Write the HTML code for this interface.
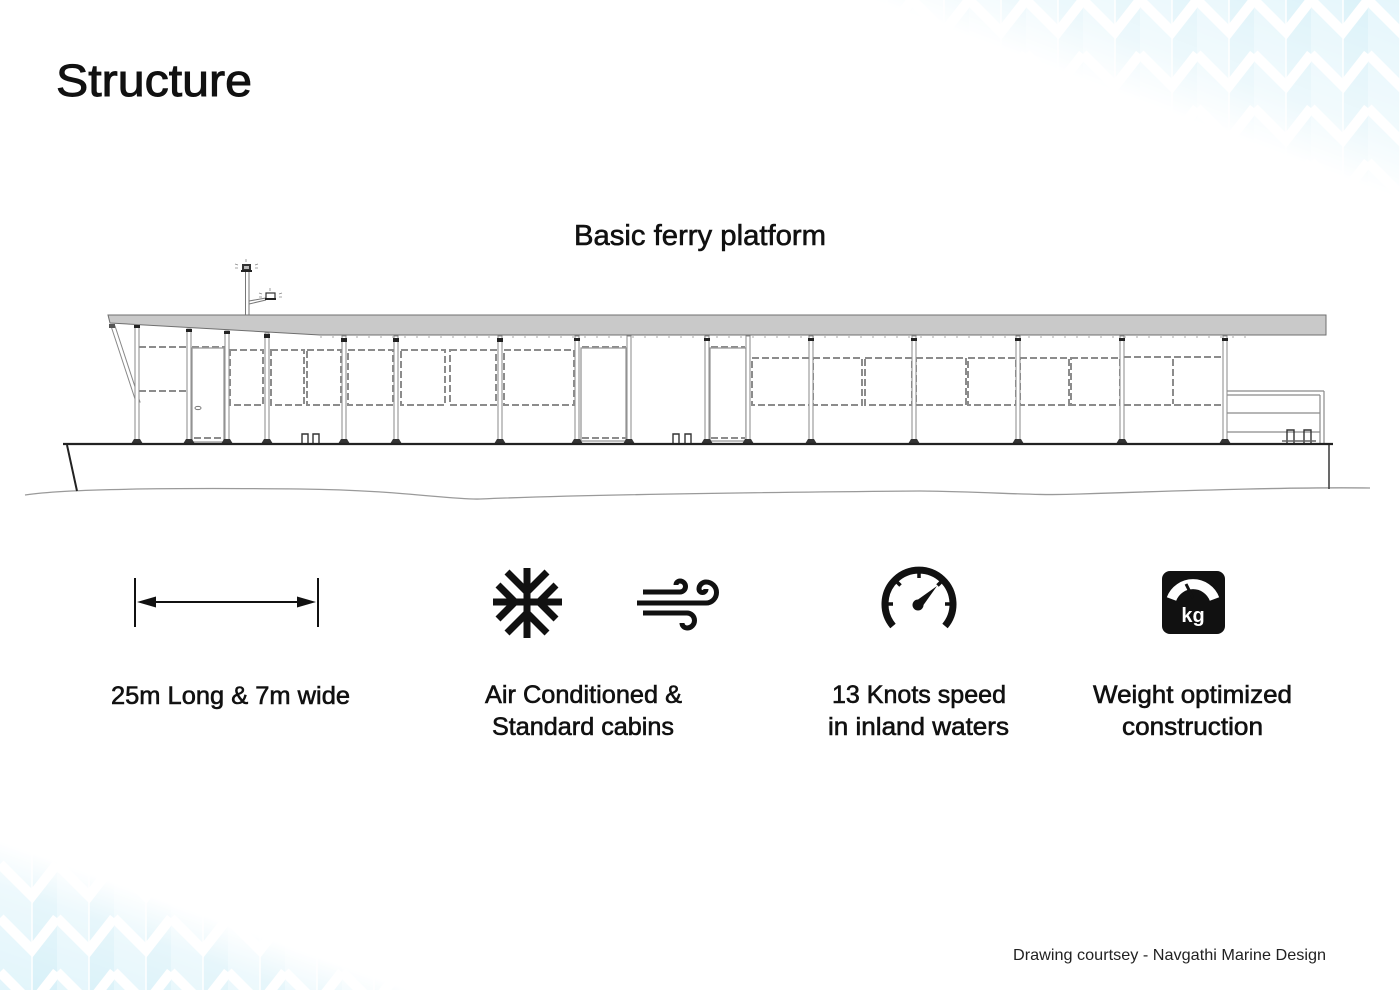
<!DOCTYPE html>
<html>
<head>
<meta charset="utf-8">
<style>
html,body{margin:0;padding:0;background:#fff;}
body{width:1400px;height:990px;overflow:hidden;}
svg{display:block;}
text{font-family:"Liberation Sans",Arial,sans-serif;fill:#111;}
.lb{stroke:#111;stroke-width:0.6px;}
</style>
</head>
<body>
<svg width="1400" height="990" viewBox="0 0 1400 990" xmlns="http://www.w3.org/2000/svg">
<defs>
  <pattern id="zz" width="57" height="54" patternUnits="userSpaceOnUse">
    <rect width="57" height="54" fill="#d6f0f8"/>
    <rect x="0" y="0" width="32" height="54" fill="#e2f5fb"/>
    <line x1="32" y1="0" x2="32" y2="54" stroke="#fff" stroke-width="1.5"/>
    <polyline points="0,0 32,32 57,0" fill="none" stroke="#fff" stroke-width="10"/>
    <polyline points="0,54 32,86 57,54" fill="none" stroke="#fff" stroke-width="10"/>
    <polyline points="0,-54 32,-22 57,-54" fill="none" stroke="#fff" stroke-width="10"/>
  </pattern>
  <linearGradient id="gTR" gradientUnits="userSpaceOnUse" x1="1334" y1="175" x2="1400" y2="0">
    <stop offset="0" stop-color="#fff" stop-opacity="0"/>
    <stop offset="0.3" stop-color="#fff" stop-opacity="0.45"/>
    <stop offset="1" stop-color="#fff" stop-opacity="0.9"/>
  </linearGradient>
  <linearGradient id="gBL" gradientUnits="userSpaceOnUse" x1="48" y1="858" x2="0" y2="990">
    <stop offset="0" stop-color="#fff" stop-opacity="0"/>
    <stop offset="0.3" stop-color="#fff" stop-opacity="0.6"/>
    <stop offset="1" stop-color="#fff" stop-opacity="1"/>
  </linearGradient>
  <mask id="mTR" maskUnits="userSpaceOnUse" x="0" y="0" width="1400" height="990">
    <rect x="860" y="0" width="540" height="210" fill="url(#gTR)"/>
  </mask>
  <mask id="mBL" maskUnits="userSpaceOnUse" x="0" y="0" width="1400" height="990">
    <rect x="0" y="820" width="430" height="170" fill="url(#gBL)"/>
  </mask>
</defs>

<rect x="860" y="0" width="540" height="210" fill="url(#zz)" mask="url(#mTR)"/>
<rect x="0" y="820" width="430" height="170" fill="url(#zz)" mask="url(#mBL)"/>

<text x="56" y="96" font-size="45" textLength="196" lengthAdjust="spacingAndGlyphs" style="stroke:#111;stroke-width:0.9px">Structure</text>
<text x="574" y="245" font-size="29" textLength="252" lengthAdjust="spacingAndGlyphs" class="lb">Basic ferry platform</text>

<g id="ferry">
  <path d="M25,495 C70,488 200,488 300,489 S450,500 480,499 C600,494 800,492 920,491 C1000,492 1030,496 1080,494 C1200,490 1300,487 1370,488" fill="none" stroke="#9a9a9a" stroke-width="1.3"/>
  <line x1="67" y1="445" x2="77" y2="491" stroke="#222" stroke-width="2"/>
  <line x1="1329" y1="444" x2="1329" y2="489" stroke="#444" stroke-width="1.6"/>

  <line x1="245.5" y1="272" x2="245.5" y2="316" stroke="#777" stroke-width="1"/>
  <line x1="249" y1="272" x2="249" y2="316" stroke="#777" stroke-width="1"/>
  <line x1="249" y1="301" x2="266" y2="298" stroke="#777" stroke-width="1"/>
  <line x1="249" y1="304" x2="266" y2="300" stroke="#777" stroke-width="1"/>
  <rect x="242" y="264" width="9" height="7" fill="#333"/>
  <rect x="244" y="266" width="5" height="3" fill="#bbb"/>
  <rect x="241" y="270" width="11" height="2" fill="#222"/>
  <path d="M238,265 l-3,-1 M238,268 h-3 M255,265 l3,-1 M255,268 h3 M246,262 v-3" stroke="#888" stroke-width="0.8"/>
  <rect x="266" y="293" width="9" height="6" fill="#fff" stroke="#333" stroke-width="1.2"/>
  <rect x="265" y="298" width="11" height="2" fill="#222"/>
  <path d="M262,294 l-3,-1 M262,297 h-3 M279,294 l3,-1 M279,297 h3 M270,291 v-3" stroke="#888" stroke-width="0.8"/>

  <polygon points="108,315 1326,315 1326,335 320,335 110,323" fill="#c9c9c9" stroke="#6f6f6f" stroke-width="1"/>
  <line x1="320" y1="337" x2="1250" y2="337" stroke="#aaa" stroke-width="1" stroke-dasharray="2 10"/>

  <polygon points="111,326 115,326 140,402 136,402" fill="#fff" stroke="#888" stroke-width="1"/>
  <rect x="109" y="324" width="6" height="4" fill="#555"/>

  <g fill="none" stroke="#8c8c8c" stroke-width="2" stroke-dasharray="7 3">
    <line x1="139" y1="347" x2="188" y2="347"/>
    <line x1="139" y1="391" x2="188" y2="391"/>
    <line x1="192" y1="347" x2="226" y2="347"/>
    <line x1="194" y1="438" x2="222" y2="438"/>
    <rect x="230" y="350" width="33" height="55"/>
    <rect x="271" y="350" width="33" height="55"/>
    <rect x="307" y="350" width="34" height="55"/>
    <rect x="348" y="350" width="45" height="55"/>
    <rect x="401" y="350" width="44" height="55"/>
    <rect x="450" y="350" width="46" height="55"/>
    <rect x="504" y="350" width="70" height="55"/>
    <line x1="582" y1="347" x2="626" y2="347"/>
    <line x1="582" y1="438" x2="626" y2="438"/>
    <line x1="711" y1="347" x2="745" y2="347"/>
    <line x1="711" y1="438" x2="745" y2="438"/>
    <rect x="752" y="358" width="58" height="47"/>
    <rect x="813" y="358" width="49" height="47"/>
    <rect x="865" y="358" width="47" height="47"/>
    <rect x="916" y="358" width="50" height="47"/>
    <rect x="968" y="358" width="48" height="47"/>
    <rect x="1020" y="358" width="49" height="47"/>
    <rect x="1071" y="358" width="49" height="47"/>
    <line x1="1124" y1="357" x2="1223" y2="357"/>
    <line x1="1124" y1="405" x2="1223" y2="405"/>
    <line x1="1173" y1="359" x2="1173" y2="404"/>
  </g>

  <g fill="none" stroke="#999" stroke-width="1.3">
    <rect x="192" y="348" width="32" height="94"/>
    <rect x="581" y="348" width="45" height="93"/>
    <rect x="710" y="348" width="36" height="93"/>
  </g>
  <ellipse cx="198" cy="408" rx="3" ry="1.6" fill="none" stroke="#777" stroke-width="1"/>

  <g>
    <g fill="#fff" stroke="#8a8a8a" stroke-width="1">
      <rect x="135" y="325" width="4" height="118"/>
      <rect x="187" y="329" width="4" height="114"/>
      <rect x="225" y="331" width="4" height="112"/>
      <rect x="265" y="333" width="4" height="110"/>
      <rect x="342" y="336" width="4" height="107"/>
      <rect x="394" y="336" width="4" height="107"/>
      <rect x="498" y="336" width="4" height="107"/>
      <rect x="575" y="336" width="4" height="107"/>
      <rect x="627" y="336" width="4" height="107"/>
      <rect x="705" y="336" width="4" height="107"/>
      <rect x="746" y="336" width="4" height="107"/>
      <rect x="809" y="336" width="4" height="107"/>
      <rect x="912" y="336" width="4" height="107"/>
      <rect x="1016" y="336" width="4" height="107"/>
      <rect x="1120" y="336" width="4" height="107"/>
      <rect x="1223" y="336" width="4" height="107"/>
    </g>
    <g fill="#222">
      <rect x="134" y="325" width="6" height="3"/>
      <rect x="186" y="329" width="6" height="3"/>
      <rect x="224" y="331" width="6" height="3"/>
      <rect x="264" y="334" width="6" height="4"/>
      <rect x="341" y="338" width="6" height="4"/>
      <rect x="393" y="338" width="6" height="4"/>
      <rect x="497" y="338" width="6" height="4"/>
      <rect x="574" y="338" width="6" height="3"/>
      <rect x="704" y="338" width="6" height="3"/>
      <rect x="808" y="338" width="6" height="3"/>
      <rect x="911" y="338" width="6" height="3"/>
      <rect x="1015" y="338" width="6" height="3"/>
      <rect x="1119" y="338" width="6" height="3"/>
      <rect x="1222" y="338" width="6" height="3"/>
    </g>
    <g fill="#333">
      <polygon points="131,444 143,444 140,439 134,439"/>
      <polygon points="183,444 195,444 192,439 186,439"/>
      <polygon points="221,444 233,444 230,439 224,439"/>
      <polygon points="261,444 273,444 270,439 264,439"/>
      <polygon points="338,444 350,444 347,439 341,439"/>
      <polygon points="390,444 402,444 399,439 393,439"/>
      <polygon points="494,444 506,444 503,439 497,439"/>
      <polygon points="571,444 583,444 580,439 574,439"/>
      <polygon points="623,444 635,444 632,439 626,439"/>
      <polygon points="701,444 713,444 710,439 704,439"/>
      <polygon points="742,444 754,444 751,439 745,439"/>
      <polygon points="805,444 817,444 814,439 808,439"/>
      <polygon points="908,444 920,444 917,439 911,439"/>
      <polygon points="1012,444 1024,444 1021,439 1015,439"/>
      <polygon points="1116,444 1128,444 1125,439 1119,439"/>
      <polygon points="1219,444 1231,444 1228,439 1222,439"/>
    </g>
  </g>

  <g fill="none" stroke="#8a8a8a" stroke-width="1.2">
    <line x1="1227" y1="391" x2="1324" y2="391"/>
    <line x1="1227" y1="395" x2="1320" y2="395"/>
    <line x1="1227" y1="413" x2="1320" y2="413"/>
    <line x1="1227" y1="432" x2="1320" y2="432"/>
    <line x1="1320" y1="395" x2="1320" y2="443"/>
    <line x1="1324" y1="391" x2="1324" y2="443"/>
  </g>

  <g fill="none" stroke="#333" stroke-width="1.4">
    <path d="M302,443 V434 H308 V443 M313,443 V434 H319 V443"/>
    <path d="M673,443 V434 H679 V443 M685,443 V434 H691 V443"/>
    <path d="M1287,443 V430 H1294 V443 M1304,443 V430 H1311 V443"/>
  </g>
  <line x1="1282" y1="441" x2="1316" y2="441" stroke="#666" stroke-width="1.5"/>

  <line x1="63" y1="444" x2="1333" y2="444" stroke="#222" stroke-width="2.2"/>
</g>

<g stroke="#111" stroke-width="2">
  <line x1="135" y1="578" x2="135" y2="627"/>
  <line x1="318" y1="578" x2="318" y2="627"/>
  <line x1="150" y1="602" x2="303" y2="602"/>
</g>
<polygon points="137,602 156,596.5 156,607.5" fill="#111"/>
<polygon points="316,602 297,596.5 297,607.5" fill="#111"/>

<g stroke="#111" stroke-width="7" fill="none" stroke-linecap="butt">
  <line x1="527" y1="568" x2="527" y2="638"/>
  <line x1="493" y1="602" x2="562" y2="602"/>
  <polyline points="507,572 527,592 547,572"/>
  <polyline points="507,633 527,613 547,633"/>
  <polyline points="498,585 515,602 498,619"/>
  <polyline points="556,585 539,602 556,619"/>
</g>

<g stroke="#111" stroke-width="5" fill="none">
  <path d="M643,592 H680 A5.5,5.5 0 0 0 680,581 A4,4 0 0 0 676,585"/>
  <path d="M637,603 H706 A10.5,10.5 0 0 0 706,582 A7,7 0 0 0 699,589 A3.5,3.5 0 0 0 706,589"/>
  <path d="M643,613 H687 A7.5,7.5 0 0 1 687,628 A5,5 0 0 1 682,623"/>
</g>

<path d="M893,626 A34,34 0 1 1 945,626" fill="none" stroke="#111" stroke-width="7"/>
<g stroke="#111" stroke-width="3.5">
  <line x1="919" y1="571" x2="919" y2="578"/>
  <line x1="886" y1="604" x2="893" y2="604"/>
  <line x1="952" y1="604" x2="945" y2="604"/>
  <line x1="895.5" y1="580.5" x2="900.5" y2="585.5"/>
  <line x1="942.5" y1="580.5" x2="937.5" y2="585.5"/>
</g>
<circle cx="918" cy="605" r="5.5" fill="#111"/>
<polygon points="914.5,602 921,608.5 937,586" fill="#111"/>

<rect x="1162" y="571" width="63" height="63" rx="8" ry="8" fill="#111"/>
<path d="M1171.5,599 A23,23 0 0 1 1214.5,599" fill="none" stroke="#fff" stroke-width="10"/>
<line x1="1186" y1="584" x2="1193" y2="598" stroke="#111" stroke-width="3"/>
<text x="1193" y="622" font-size="20" font-weight="bold" text-anchor="middle" style="fill:#fff">kg</text>

<text x="111" y="704" font-size="25" textLength="239" lengthAdjust="spacingAndGlyphs" class="lb">25m Long &amp; 7m wide</text>
<text x="485" y="703" font-size="25" textLength="197" lengthAdjust="spacingAndGlyphs" class="lb">Air Conditioned &amp;</text>
<text x="492" y="735" font-size="25" textLength="182" lengthAdjust="spacingAndGlyphs" class="lb">Standard cabins</text>
<text x="832" y="703" font-size="25" textLength="174" lengthAdjust="spacingAndGlyphs" class="lb">13 Knots speed</text>
<text x="828" y="735" font-size="25" textLength="181" lengthAdjust="spacingAndGlyphs" class="lb">in inland waters</text>
<text x="1093" y="703" font-size="25" textLength="199" lengthAdjust="spacingAndGlyphs" class="lb">Weight optimized</text>
<text x="1122" y="735" font-size="25" textLength="141" lengthAdjust="spacingAndGlyphs" class="lb">construction</text>

<text x="1013" y="960" font-size="16" textLength="313" lengthAdjust="spacingAndGlyphs" style="fill:#222">Drawing courtsey - Navgathi Marine Design</text>
</svg>
</body>
</html>
